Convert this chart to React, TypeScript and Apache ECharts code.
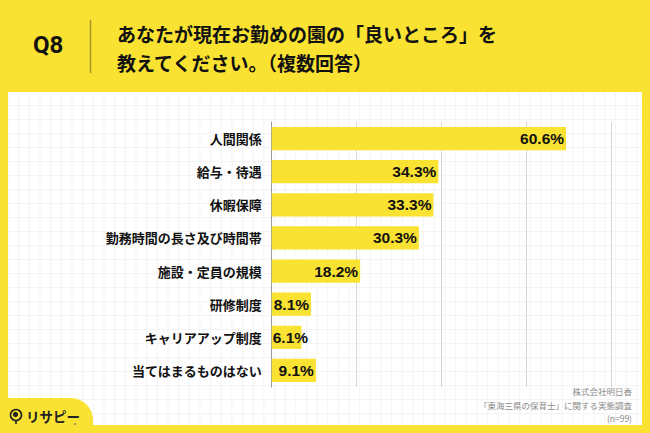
import React, { useEffect, useRef } from "react";
import * as echarts from "echarts";

const categories = [
  "人間関係",
  "給与・待遇",
  "休暇保障",
  "勤務時間の長さ及び時間帯",
  "施設・定員の規模",
  "研修制度",
  "キャリアアップ制度",
  "当てはまるものはない",
];
const values = [60.6, 34.3, 33.3, 30.3, 18.2, 8.1, 6.1, 9.1];
const axisMax = 70;
const axisInterval = 17.5;

const titleQ = "Q8";
const titleLine1 = "あなたが現在お勤めの園の「良いところ」を";
const titleLine2 = "教えてください。（複数回答）";
const footerLines = ["株式会社明日香", "「東海三県の保育士」に関する実態調査", "(n=99)"];
const logoText = "リサピー";

const YELLOW = "#F9E232";
const JP = "'Noto Sans CJK JP', 'Noto Sans', sans-serif";

export default function App() {
  const ref = useRef<HTMLDivElement>(null);

  useEffect(() => {
    if (!ref.current) return;
    const chart = echarts.init(ref.current, undefined, { renderer: "svg" });
    chart.setOption({
      animation: false,
      backgroundColor: "transparent",
      grid: { left: 271.7, top: 122, width: 340, height: 265, containLabel: false },
      xAxis: {
        type: "value",
        min: 0,
        max: axisMax,
        interval: axisInterval,
        axisLabel: { show: false },
        axisTick: { show: false },
        axisLine: { show: false },
        splitLine: { show: true, lineStyle: { color: "#d6d6d6", width: 1 } },
      },
      yAxis: {
        type: "category",
        data: categories,
        inverse: true,
        axisTick: { show: false },
        axisLine: { show: true, lineStyle: { color: "#9a9a9a", width: 1 } },
        axisLabel: {
          color: "#111",
          fontSize: 13,
          fontWeight: "bold",
          fontFamily: JP,
          margin: 10,
        },
      },
      series: [
        {
          type: "bar",
          barCategoryGap: "30%",
          itemStyle: { color: YELLOW },
          label: {
            show: true,
            position: "insideRight",
            distance: 2,
            formatter: (p: any) => p.value.toFixed(1) + "%",
            color: "#111",
            fontSize: 15.5,
            fontWeight: "bold",
            fontFamily: "'Liberation Sans', Roboto, sans-serif",
          },
          data: values.map((v) =>
            v < 7
              ? { value: v, label: { position: "insideLeft", distance: 1 } }
              : { value: v }
          ),
        },
      ],
      graphic: [
        {
          type: "text",
          left: 33,
          top: 33,
          style: {
            text: titleQ,
            fontSize: 24,
            fontWeight: "bold",
            fontFamily: "Roboto, 'Noto Sans', sans-serif",
            fill: "#111",
          },
        },
        {
          type: "line",
          shape: { x1: 90.5, y1: 20, x2: 90.5, y2: 73 },
          style: { stroke: "#a89530", lineWidth: 1.5 },
        },
        {
          type: "text",
          x: 117,
          y: 33,
          style: {
            text: titleLine1,
            fontSize: 19,
            fontWeight: "bold",
            fontFamily: JP,
            fill: "#111",
            verticalAlign: "middle",
          },
        },
        {
          type: "text",
          x: 117,
          y: 62,
          style: {
            text: titleLine2,
            fontSize: 19,
            fontWeight: "bold",
            fontFamily: JP,
            fill: "#111",
            verticalAlign: "middle",
          },
        },
        ...footerLines.map((t, i) => ({
          type: "text",
          x: 632,
          y: 391 + i * 13.5,
          style: {
            text: t,
            fontSize: 8.5,
            fontFamily: JP,
            fill: "#8a8a8a",
            align: "right",
            verticalAlign: "middle",
          },
        })),
        {
          type: "rect",
          shape: { x: 0, y: 398, width: 93, height: 35, r: [0, 22, 0, 0] },
          style: { fill: YELLOW },
        },
        {
          type: "circle",
          shape: { cx: 16, cy: 415, r: 5.5 },
          style: { fill: YELLOW, stroke: "#222", lineWidth: 1.6 },
        },
        {
          type: "circle",
          shape: { cx: 15.5, cy: 414.5, r: 2.6 },
          style: { fill: "#222" },
        },
        {
          type: "line",
          shape: { x1: 16, y1: 420.5, x2: 16, y2: 424 },
          style: { stroke: "#222", lineWidth: 1.6 },
        },
        {
          type: "text",
          x: 26,
          y: 416,
          style: {
            text: logoText,
            fontSize: 13.5,
            fontWeight: "bold",
            fontFamily: JP,
            fill: "#222",
            verticalAlign: "middle",
          },
        },
        {
          type: "circle",
          shape: { cx: 75, cy: 424, r: 0.8 },
          style: { fill: "#777" },
        },
      ],
    });
    return () => chart.dispose();
  }, []);

  return (
    <div
      style={{
        position: "absolute",
        left: 0,
        top: 0,
        width: 650,
        height: 433,
        background: YELLOW,
        overflow: "hidden",
      }}
    >
      <div
        style={{
          position: "absolute",
          left: 8,
          top: 92,
          width: 634,
          height: 333,
          backgroundColor: "#fff",
          backgroundImage:
            "linear-gradient(to right, #f4f4f4 1px, transparent 1px), linear-gradient(to bottom, #f4f4f4 1px, transparent 1px)",
          backgroundSize: "10.67px 14px",
          backgroundPosition: "-0.4px -1px",
        }}
      />
      <div
        ref={ref}
        style={{ position: "absolute", left: 0, top: 0, width: 650, height: 433 }}
      />
    </div>
  );
}
